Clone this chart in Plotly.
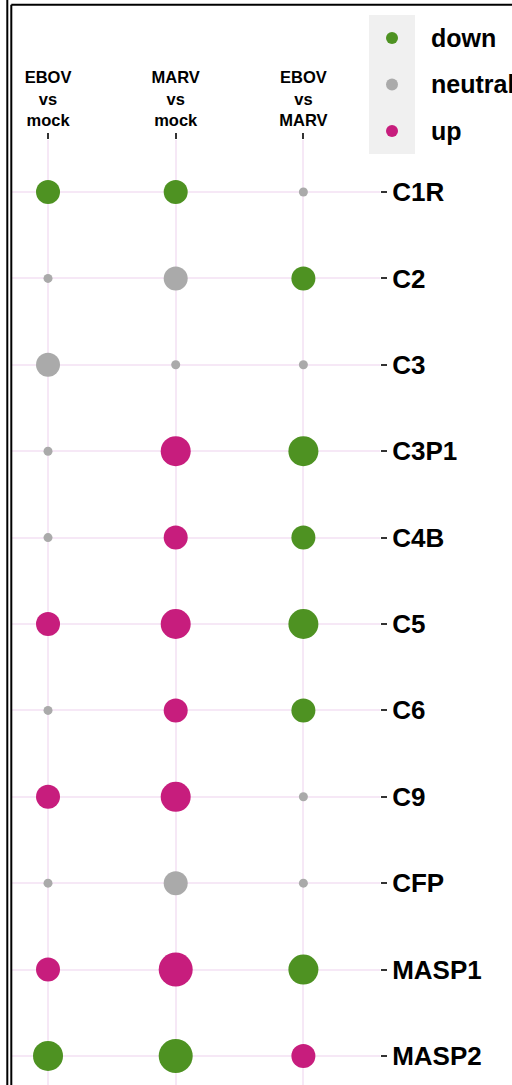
import plotly.graph_objects as go

# ---- data -------------------------------------------------------------
genes = ["C1R", "C2", "C3", "C3P1", "C4B", "C5", "C6", "C9", "CFP", "MASP1", "MASP2"]
contrast_labels = ["EBOV<br>vs<br>mock", "MARV<br>vs<br>mock", "EBOV<br>vs<br>MARV"]

# regulation call per gene, one list per contrast
ebov_mock_dir = ["down", "neutral", "neutral", "neutral", "neutral", "up", "neutral", "up", "neutral", "up", "down"]
marv_mock_dir = ["down", "neutral", "neutral", "up", "up", "up", "up", "up", "neutral", "up", "down"]
ebov_marv_dir = ["neutral", "down", "neutral", "down", "down", "down", "down", "neutral", "neutral", "down", "up"]

# significance level per gene (0 = n.s. ... 3 = strongest), one list per contrast
ebov_mock_sig = [1, 0, 1, 0, 0, 1, 0, 1, 0, 1, 2]
marv_mock_sig = [1, 1, 0, 2, 1, 2, 1, 2, 1, 3, 3]
ebov_marv_sig = [0, 1, 0, 2, 1, 2, 1, 0, 0, 2, 1]

directions = ["down", "neutral", "up"]

# ---- styling ----------------------------------------------------------
COLORS = {"down": "#4e9222", "neutral": "#aaaaaa", "up": "#c71d7d"}
SIZE_BY_SIG = {0: 9, 1: 24, 2: 30, 3: 34}
GRID = "#f6e8f6"
FONT = "Liberation Sans, Arial, Helvetica, sans-serif"

W, H = 512, 1085
L, R, T, B = 12, 132, 140, 0
PW, PH = W - L - R, H - T - B


def px_x(px):
    return (px - L) / PW


def px_y(py):
    return 1 - (py - T) / PH


dirs_by_contrast = [ebov_mock_dir, marv_mock_dir, ebov_marv_dir]
sig_by_contrast = [ebov_mock_sig, marv_mock_sig, ebov_marv_sig]

fig = go.Figure()
for d in directions:
    xs, ys, sizes = [], [], []
    for ci, (dl, sl) in enumerate(zip(dirs_by_contrast, sig_by_contrast)):
        for gi, gene in enumerate(genes):
            if dl[gi] == d:
                xs.append(ci + 1)
                ys.append(gi)
                sizes.append(SIZE_BY_SIG[sl[gi]])
    fig.add_trace(go.Scatter(
        x=xs, y=ys, mode="markers", name=d, showlegend=False,
        marker=dict(color=COLORS[d], size=sizes, line=dict(width=0), opacity=1),
        cliponaxis=False,
    ))

fig.update_layout(
    width=W, height=H,
    margin=dict(l=L, r=R, t=T, b=B, pad=0),
    paper_bgcolor="white", plot_bgcolor="white",
    font=dict(family=FONT, color="black"),
    showlegend=False,
    xaxis=dict(
        side="top", range=[0.718, 3.6], tickmode="array",
        tickvals=[1, 2, 3], ticktext=contrast_labels,
        ticks="outside", ticklen=6, tickwidth=1.5, tickcolor="#333333",
        tickfont=dict(size=16.5, family=FONT, weight="bold", color="black"),
        showgrid=True, gridcolor=GRID, gridwidth=2,
        zeroline=False, showline=False, fixedrange=True,
    ),
    yaxis=dict(
        side="right", range=[10.336, -0.602], tickmode="array",
        tickvals=list(range(len(genes))), ticktext=genes,
        ticks="outside", ticklen=6, tickwidth=1.5, tickcolor="#333333",
        tickfont=dict(size=26, family=FONT, weight="bold", color="black"),
        showgrid=True, gridcolor=GRID, gridwidth=2,
        zeroline=False, showline=False, fixedrange=True,
    ),
)

# panel frame lines
frame = dict(type="line", xref="paper", yref="paper", line=dict(color="black", width=2))
fig.add_shape(x0=px_x(7.3), x1=px_x(7.3), y0=px_y(0), y1=px_y(H), **frame)
fig.add_shape(x0=px_x(11.3), x1=px_x(11.3), y0=px_y(4.8), y1=px_y(H), **frame)
fig.add_shape(x0=px_x(11.3), x1=px_x(W + 5), y0=px_y(4.8), y1=px_y(4.8), **frame)

# legend: key background, key dots and labels
fig.add_shape(type="rect", xref="paper", yref="paper",
              x0=px_x(369), x1=px_x(415), y0=px_y(15), y1=px_y(154),
              fillcolor="#f0f0f0", line=dict(width=0), layer="below")
key_y = [38, 84.5, 131]
for d, ky in zip(directions, key_y):
    r = 6
    fig.add_shape(type="circle", xref="paper", yref="paper",
                  x0=px_x(392 - r), x1=px_x(392 + r), y0=px_y(ky + r), y1=px_y(ky - r),
                  fillcolor=COLORS[d], line=dict(width=0))
    fig.add_annotation(xref="paper", yref="paper", x=px_x(429), y=px_y(ky),
                       text=d, showarrow=False, xanchor="left", yanchor="middle",
                       font=dict(size=25, family=FONT, weight="bold", color="black"))

fig.write_html("out.html")
